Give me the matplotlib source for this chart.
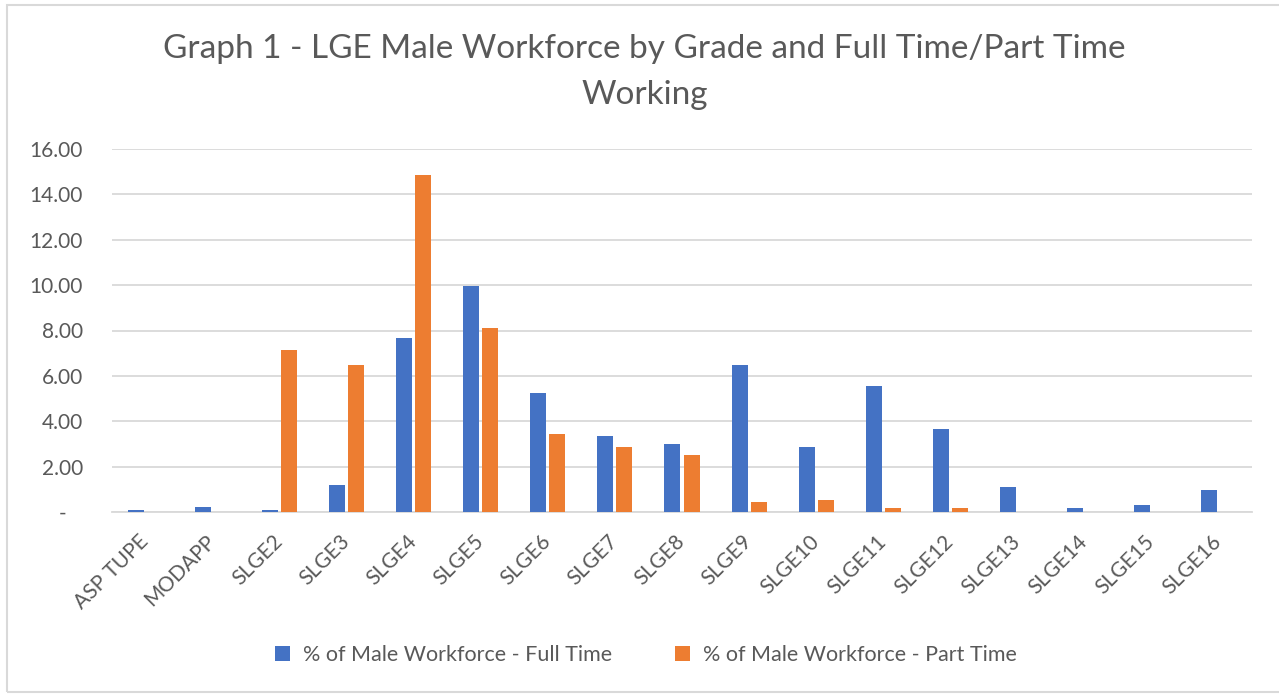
import numpy as np
import matplotlib
matplotlib.use('Agg')
import matplotlib.pyplot as plt
from matplotlib.patches import Rectangle

# values
grades = ['ASP TUPE', 'MODAPP', 'SLGE2', 'SLGE3', 'SLGE4', 'SLGE5', 'SLGE6', 'SLGE7',
          'SLGE8', 'SLGE9', 'SLGE10', 'SLGE11', 'SLGE12', 'SLGE13', 'SLGE14', 'SLGE15', 'SLGE16']
full_time = [0.10, 0.24, 0.10, 1.21, 7.69, 9.94, 5.26, 3.37, 3.01, 6.46, 2.88, 5.57, 3.68, 1.12, 0.19, 0.32, 0.99]
part_time = [0.0, 0.0, 7.16, 6.46, 14.84, 8.13, 3.46, 2.88, 2.53, 0.46, 0.54, 0.19, 0.19, 0.0, 0.0, 0.0, 0.0]
yticks = [0, 2, 4, 6, 8, 10, 12, 14, 16]
ytick_labels = ['-   ', '2.00', '4.00', '6.00', '8.00', '10.00', '12.00', '14.00', '16.00']

blue = '#4472C4'
orange = '#ED7D31'
grey_txt = '#595959'
grid_col = '#D9D9D9'

plt.rcParams['font.family'] = ['Lato', 'DejaVu Sans']

fig = plt.figure(figsize=(12.79, 6.95), dpi=100)
W, H = 1279, 695
# axes placed in pixel coords: left 112, right 1252, top 149, bottom 512
ax = fig.add_axes([112 / W, 1 - 512 / H, (1252 - 112) / W, (512 - 149) / H])

x = np.arange(len(grades))
bw = 0.239
off = 0.142
ax.bar(x - off, full_time, bw, color=blue, label='% of Male Workforce - Full Time', zorder=3)
ax.bar(x + off, part_time, bw, color=orange, label='% of Male Workforce - Part Time', zorder=3)

ax.set_xlim(-0.5, len(grades) - 0.5)
ax.set_ylim(0, 16)
ax.set_yticks(yticks)
ax.set_yticklabels(ytick_labels)
ax.yaxis.grid(True, color=grid_col, linewidth=1.3, zorder=0)
ax.set_axisbelow(True)
for s in ['top', 'right', 'left']:
    ax.spines[s].set_visible(False)
ax.spines['bottom'].set_color(grid_col)
ax.spines['bottom'].set_linewidth(1.3)
ax.tick_params(axis='both', length=0, labelsize=15, labelcolor=grey_txt)
ax.tick_params(axis='y', pad=21)

ax.set_xticks(x)
ax.set_xticklabels(grades, rotation=45, ha='right', va='center', rotation_mode='anchor')
ax.tick_params(axis='x', pad=19)

fig.text(0.504, 1 - 72 / H, 'Graph 1 - LGE Male Workforce by Grade and Full Time/Part Time\nWorking',
         ha='center', va='center', fontsize=24, color=grey_txt,
         linespacing=1.65)

fig.legend(loc='center', bbox_to_anchor=(0.505, 1 - 655 / H), ncol=2, frameon=False,
           fontsize=15.5, labelcolor=grey_txt, handlelength=0.7, handleheight=0.7,
           handletextpad=0.6, columnspacing=2.9)

# light outer border like the Excel chart area
fig.patches.append(Rectangle((7 / W, 1 - 692 / H), 1.0, (692 - 5) / H, transform=fig.transFigure,
                             fill=False, edgecolor=grid_col, linewidth=1.5))

fig.savefig('out.png', dpi=100)
